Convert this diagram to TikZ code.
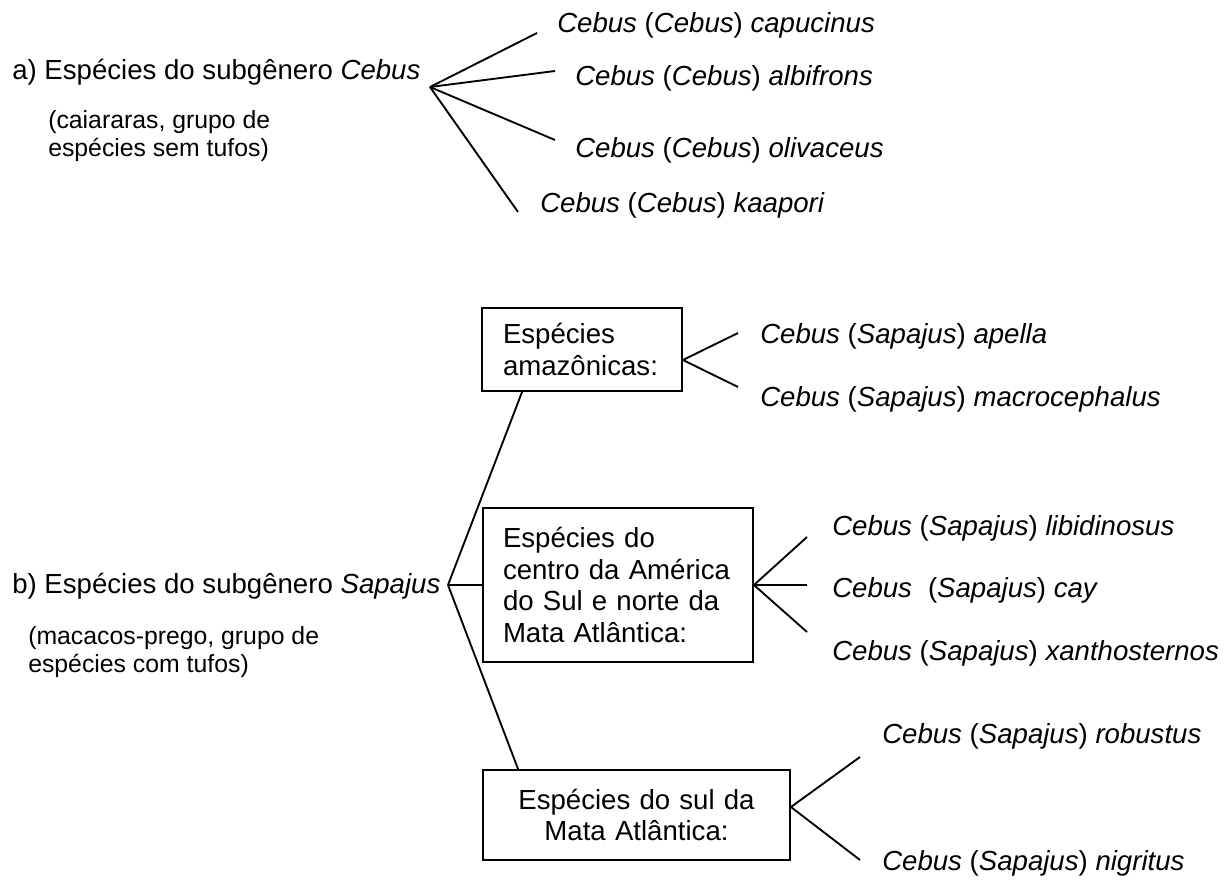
\documentclass[tikz,border=0pt]{standalone}
\usepackage{fontspec}
\setmainfont{Liberation Sans}
\newcommand\mainf{\fontsize{20.7}{23.8}\selectfont}
\newcommand\smallf{\fontsize{18.6}{21}\selectfont}
\newcommand\spname[3]{\textit{#1} (\textit{#2}) \textit{#3}}
\begin{document}
\begin{tikzpicture}[x=0.75pt,y=-0.75pt,
  conn/.style={line width=1.4pt},
  lbl/.style={anchor=base west, inner sep=0pt, font=\mainf},
  note/.style={anchor=base west, inner sep=0pt, font=\smallf, align=left},
  box/.style={draw, line width=1.4pt, inner sep=0pt, font=\mainf}]
\useasboundingbox (0,0) rectangle (1227,880);

% ---- a) subgenus Cebus
\node[lbl] (ta) at (12,80) {a) Espécies do subgênero \textit{Cebus}};
\node[note] (na) at (48,157) {(caiararas, grupo de\\espécies sem tufos)};
\coordinate (A) at (430,87);
\coordinate (a1) at (537,33);
\coordinate (a2) at (555,71);
\coordinate (a3) at (555,140);
\coordinate (a4) at (518,212);
\node[lbl] (capucinus) at (557,33) {\spname{Cebus}{Cebus}{capucinus}};
\node[lbl] (albifrons) at (575,86) {\spname{Cebus}{Cebus}{albifrons}};
\node[lbl] (olivaceus) at (575,158) {\spname{Cebus}{Cebus}{olivaceus}};
\node[lbl] (kaapori) at (540,213) {\spname{Cebus}{Cebus}{kaapori}};
\draw[conn] (A) -- (a1);
\draw[conn] (A) -- (a2);
\draw[conn] (A) -- (a3);
\draw[conn] (A) -- (a4);

% ---- b) subgenus Sapajus
\node[lbl] (tb) at (12,593) {b) Espécies do subgênero \textit{Sapajus}};
\node[note] (nb) at (28,672) {(macacos-prego, grupo de\\espécies com tufos)};
\coordinate (B) at (448,585);

\node[box, minimum width=150pt, minimum height=62.25pt, text width=118.5pt, align=left] (box1) at (582,349.5) {Espécies\\amazônicas:};
\node[box, minimum width=202.5pt, minimum height=115.5pt, text width=172.5pt, align=left] (box2) at (618,585) {Espécies do\\centro da América\\do Sul e norte da\\Mata Atlântica:};
\node[box, minimum width=230.25pt, minimum height=67.5pt, text width=200pt, align=center] (box3) at (636.5,815) {Espécies do sul da\\Mata Atlântica:};

\draw[conn] (B) -- ([xshift=30.75pt]box1.south west);
\draw[conn] (B) -- (box2.west);
\draw[conn] (B) -- ([xshift=27pt]box3.north west);

% box 1 leaves
\coordinate (C) at ([yshift=-7.875pt]box1.east);
\coordinate (c1) at (738,333);
\coordinate (c2) at (738,387);
\node[lbl] (apella) at (760,344) {\spname{Cebus}{Sapajus}{apella}};
\node[lbl] (macrocephalus) at (760,406) {\spname{Cebus}{Sapajus}{macrocephalus}};
\draw[conn] (C) -- (c1);
\draw[conn] (C) -- (c2);

% box 2 leaves
\coordinate (d1) at (807,537);
\coordinate (d2) at (807,585);
\coordinate (d3) at (807,632);
\node[lbl] (libidinosus) at (832,535) {\spname{Cebus}{Sapajus}{libidinosus}};
\node[lbl] (cay) at (832,597) {\textit{Cebus}\hspace{0.3em} (\textit{Sapajus}) \textit{cay}};
\node[lbl] (xanthosternos) at (832,660) {\spname{Cebus}{Sapajus}{xanthosternos}};
\draw[conn] (box2.east) -- (d1);
\draw[conn] (box2.east) -- (d2);
\draw[conn] (box2.east) -- (d3);

% box 3 leaves
\coordinate (E) at ([yshift=6pt]box3.east);
\coordinate (e1) at (860,757);
\coordinate (e2) at (860,860);
\node[lbl] (robustus) at (882,743) {\spname{Cebus}{Sapajus}{robustus}};
\node[lbl] (nigritus) at (882,870) {\spname{Cebus}{Sapajus}{nigritus}};
\draw[conn] (E) -- (e1);
\draw[conn] (E) -- (e2);
\end{tikzpicture}
\end{document}
